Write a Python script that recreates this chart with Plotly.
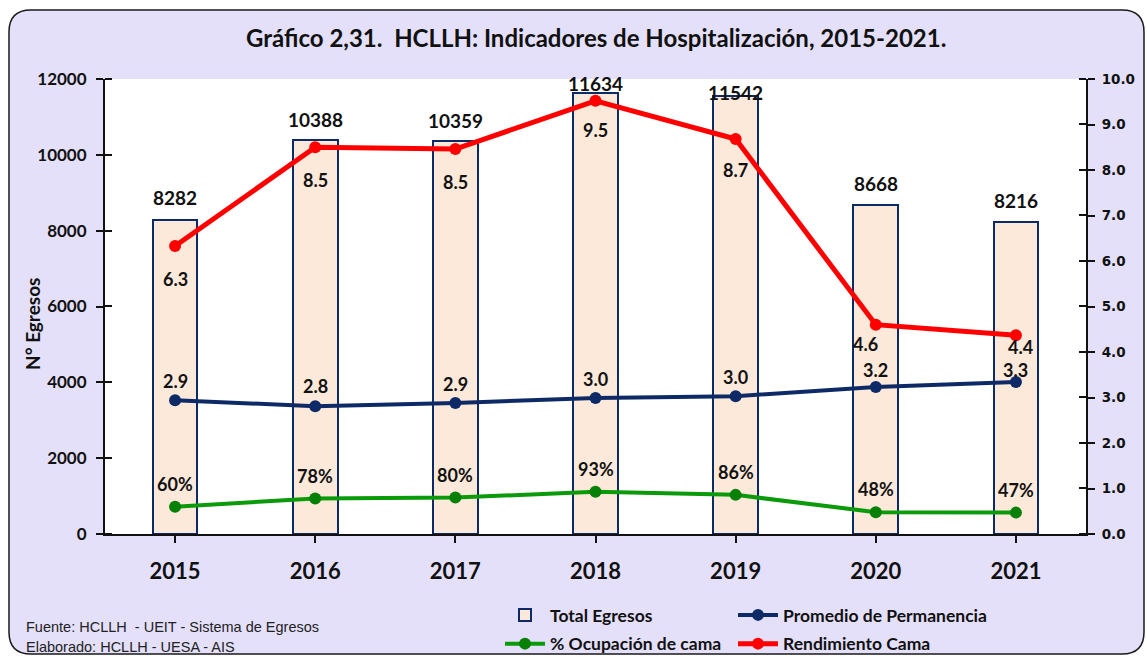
import plotly.graph_objects as go

# ---------------- data ----------------
years = [2015, 2016, 2017, 2018, 2019, 2020, 2021]
total_egresos = [8282, 10388, 10359, 11634, 11542, 8668, 8216]
promedio_perm = [2.94, 2.81, 2.88, 2.99, 3.03, 3.23, 3.34]
ocupacion_cama = [0.60, 0.78, 0.80, 0.93, 0.86, 0.48, 0.47]
rendimiento_cama = [6.33, 8.50, 8.46, 9.52, 8.68, 4.60, 4.37]
left_ticks = [0, 2000, 4000, 6000, 8000, 10000, 12000]
right_ticks = [0, 1, 2, 3, 4, 5, 6, 7, 8, 9, 10]

# ---------------- style ----------------
W, H = 1147, 657
L, R, T, B = 105, 1086, 79, 534
FONT = "Lato, Open Sans, sans-serif"
LAV = "#E4E0FA"
PEACH = "#FDE9DA"
NAVY = "#0E2A66"
RED = "#FF0000"
GREEN = "#0A9A0A"

def px(x):
    return (x - L) / (R - L)

def py(y):
    return (B - y) / (B - T)

fig = go.Figure()

fig.add_trace(go.Bar(
    x=years, y=total_egresos, name="Total Egresos", width=0.32,
    marker=dict(color=PEACH, line=dict(color=NAVY, width=2)),
    yaxis="y", legend="legend", legendgroup="a", hoverinfo="skip",
))
fig.add_trace(go.Scatter(
    x=years, y=promedio_perm, name="Promedio de Permanencia", mode="lines+markers",
    line=dict(color=NAVY, width=4), marker=dict(size=12, color=NAVY),
    yaxis="y2", legend="legend2", legendgroup="b",
))
fig.add_trace(go.Scatter(
    x=years, y=ocupacion_cama, name="% Ocupación de cama", mode="lines+markers",
    line=dict(color=GREEN, width=4), marker=dict(size=12, color="#078007"),
    yaxis="y2", legend="legend", legendgroup="c",
))
fig.add_trace(go.Scatter(
    x=years, y=rendimiento_cama, name="Rendimiento Cama", mode="lines+markers",
    line=dict(color=RED, width=5), marker=dict(size=12, color=RED),
    yaxis="y2", legend="legend2", legendgroup="d",
))

annotations = []
lab_font = dict(family=FONT, size=18, color="#111111", weight="bold")
bar_font = dict(family=FONT, size=19, color="#111111", weight="bold")
bar_shift = [22, 21, 21, 9, 4, 22, 22]
for yr, v, s in zip(years, total_egresos, bar_shift):
    annotations.append(dict(x=yr, y=v, xref="x", yref="y", text=str(v), showarrow=False,
                            yshift=s, font=bar_font))
red_shift = [(-33, 0), (-33, 0), (-33, 0), (-29, 0), (-31, 0), (-19, -10), (-12, 5)]
for yr, v, (s, xs) in zip(years, rendimiento_cama, red_shift):
    annotations.append(dict(x=yr, y=v, xref="x", yref="y2", text=f"{v:.1f}", showarrow=False,
                            yshift=s, xshift=xs, font=lab_font))
navy_shift = [19, 20, 19, 19, 19, 17, 12]
for yr, v, s in zip(years, promedio_perm, navy_shift):
    annotations.append(dict(x=yr, y=v, xref="x", yref="y2", text=f"{v:.1f}", showarrow=False,
                            yshift=s, font=lab_font))
for yr, v in zip(years, ocupacion_cama):
    annotations.append(dict(x=yr, y=v, xref="x", yref="y2", text=f"{v*100:.0f}%", showarrow=False,
                            yshift=23, font=lab_font))

# title
annotations.append(dict(x=0.5, y=py(37), xref="paper", yref="paper", showarrow=False,
                        text="Gráfico 2,31.  HCLLH: Indicadores de Hospitalización, 2015-2021.",
                        font=dict(family=FONT, size=24, color="#111111", weight="bold"),
                        xanchor="center", yanchor="middle"))
# y axis title
annotations.append(dict(x=px(32), y=py(324), xref="paper", yref="paper", showarrow=False,
                        text="N° Egresos", textangle=-90,
                        font=dict(family=FONT, size=19, color="#111111", weight="bold"),
                        xanchor="center", yanchor="middle"))
# footnotes
foot_font = dict(family="Liberation Sans Narrow, Arial Narrow, Liberation Sans, sans-serif",
                 size=14.5, color="#222222")
annotations.append(dict(x=px(24), y=py(627), xref="paper", yref="paper", showarrow=False,
                        text="Fuente: HCLLH  - UEIT - Sistema de Egresos", font=foot_font,
                        xanchor="left", yanchor="middle"))
annotations.append(dict(x=px(24), y=py(647), xref="paper", yref="paper", showarrow=False,
                        text="Elaborado: HCLLH - UESA - AIS", font=foot_font,
                        xanchor="left", yanchor="middle"))

# background shapes
x0, x1, y0, y1, r = 9, 1144, 10, 654, 22
def P(x, y):
    return f"{px(x):.5f},{py(y):.5f}"
path = (f"M{P(x0+r, y0)} L{P(x1-r, y0)} Q{P(x1, y0)} {P(x1, y0+r)} "
        f"L{P(x1, y1-r)} Q{P(x1, y1)} {P(x1-r, y1)} L{P(x0+r, y1)} "
        f"Q{P(x0, y1)} {P(x0, y1-r)} L{P(x0, y0+r)} Q{P(x0, y0)} {P(x0+r, y0)} Z")
shapes = [
    dict(type="path", path=path, xref="paper", yref="paper", layer="below",
         fillcolor=LAV, line=dict(color="#1a1a1a", width=1.5)),
    dict(type="rect", x0=0, x1=1, y0=0, y1=1, xref="paper", yref="paper", layer="below",
         fillcolor="white", line=dict(width=0)),
]

axis_font_left = dict(family=FONT, size=17, color="#111111", weight="bold")
axis_font_right = dict(family="DejaVu Sans", size=13.5, color="#111111", weight="bold")
legend_font = dict(family=FONT, size=17.5, color="#111111", weight="bold")

fig.update_layout(
    width=W, height=H,
    margin=dict(l=L, r=W - R, t=T, b=H - B, autoexpand=False),
    paper_bgcolor="white", plot_bgcolor="white",
    showlegend=True, bargap=0,
    annotations=annotations, shapes=shapes,
    xaxis=dict(tickvals=years, tickformat="d", showline=True, linecolor="#111111", linewidth=2,
               ticks="outside", ticklen=7, tickwidth=1.5, tickcolor="#111111",
               tickfont=dict(family=FONT, size=22, color="#111111", weight="bold"),
               ticklabelstandoff=10, showgrid=False, zeroline=False,
               range=[years[0] - 0.5, years[-1] + 0.5]),
    yaxis=dict(range=[0, 12000], tickvals=left_ticks, tickformat="d", showline=True,
               linecolor="#111111", linewidth=2, ticks="outside", ticklen=7, tickwidth=1.5,
               tickcolor="#111111", tickfont=axis_font_left, ticklabelstandoff=6,
               showgrid=False, zeroline=False,
               minor=dict(tickvals=[v + 0.5 for v in left_ticks], ticks="inside", ticklen=7,
                          tickwidth=1.5, tickcolor="#111111", showgrid=False)),
    yaxis2=dict(range=[0, 10], tickvals=right_ticks, tickformat=".1f", overlaying="y",
                side="right", showline=True, linecolor="#111111", linewidth=2,
                ticks="outside", ticklen=7, tickwidth=1.5, tickcolor="#111111",
                tickfont=axis_font_right, ticklabelstandoff=4, showgrid=False, zeroline=False,
                minor=dict(tickvals=[v + 0.0005 for v in right_ticks], ticks="inside",
                           ticklen=7, tickwidth=1.5, tickcolor="#111111", showgrid=False)),
    legend=dict(x=px(500), y=py(597), xanchor="left", yanchor="top", bgcolor="rgba(0,0,0,0)",
                orientation="v", tracegroupgap=3, itemwidth=40, font=legend_font),
    legend2=dict(x=px(733), y=py(597), xanchor="left", yanchor="top", bgcolor="rgba(0,0,0,0)",
                 orientation="v", tracegroupgap=3, itemwidth=40, font=legend_font),
)

fig.write_html("out.html", config={"displayModeBar": False},
               post_script="document.body.style.margin='0';")
